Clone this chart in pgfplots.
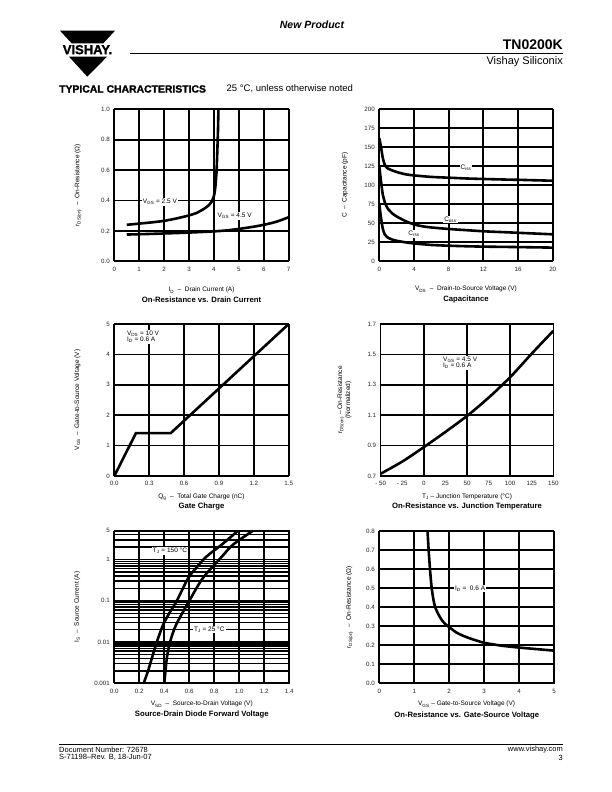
\documentclass[border=0pt]{standalone}
\usepackage{fontspec}
\setmainfont{Liberation Sans}
\newfontfamily\heavyfont[FakeBold=1.5]{Liberation Sans Bold}
\usepackage{pgfplots}
\pgfplotsset{compat=1.18}
\newcommand\tk{\fontsize{6.2}{7}\selectfont}
\newcommand\lb{\fontsize{6.5}{7.5}\selectfont}
\newcommand\ttl{\fontsize{7.7}{9}\selectfont\bfseries}
\pgfplotsset{
  ds/.style={
    scale only axis,
    axis line style={line width=1.1pt},
    grid=major,
    major grid style={line width=1.7pt, black},
    minor grid style={line width=1.4pt, black},
    major tick length=0pt, minor tick length=0pt,
    tick label style={font=\tk, text=black!85},
    xticklabel style={yshift=-2pt},
    yticklabel style={xshift=-1pt},
    label style={font=\lb},
    cycle list={black,mark=none,line width=2.6pt\\},
    /pgf/number format/assume math mode=true,
  },
}
\tikzset{lab/.style={fill=white, inner sep=1pt, font=\lb}}
\begin{document}
\begin{tikzpicture}[x=1pt,y=1pt]
\fill[white] (0,0) rectangle (612,792);
\useasboundingbox (0,0) rectangle (612,792);

% ---------- header ----------
\node[font=\fontsize{10.5}{12}\selectfont\bfseries\itshape] at (312,767) {New Product};
\fill[black] (60,761.3) -- (115,761.3) -- (103.3,748.7) -- (71.7,748.7) -- cycle;
\node[font=\fontsize{13}{14}\heavyfont, inner sep=0pt] at (87.5,742.3) {VISHAY.};
\fill[black] (69,735.3) -- (107,735.3) -- (87.3,715.3) -- cycle;
\draw[line width=1pt] (130,738.7) -- (563,738.7);
\node[anchor=south east, inner sep=0pt, font=\fontsize{14}{16}\selectfont\bfseries] at (563,742) {TN0200K};
\node[anchor=north east, inner sep=0pt, font=\fontsize{11}{13}\selectfont] at (563,736) {Vishay Siliconix};
\node[anchor=west, inner sep=0pt, font=\fontsize{10.4}{12}\heavyfont] at (59,703) {TYPICAL CHARACTERISTICS};
\node[anchor=west, inner sep=0pt, font=\fontsize{9.5}{11}\selectfont] at (226.5,703) {25 °C, unless otherwise noted};

% ---------- plot 1 ----------
\begin{axis}[ds, at={(114.3pt,530.7pt)}, anchor=south west,
  width=174.4pt, height=152pt,
  xmin=0, xmax=7, ymin=0, ymax=1,
  xtick={0,1,2,3,4,5,6,7},
  ytick={0,0.2,0.4,0.6,0.8,1.0},
  yticklabels={0.0,0.2,0.4,0.6,0.8,1.0},
  xlabel={I\textsubscript{D} \ – \ Drain Current (A)},
  xlabel style={at={(axis description cs:0.5,0)}, anchor=center, yshift=-29pt},
  ylabel={r\textsubscript{DS(on)} \ – \ On-Resistance (Ω)},
  ylabel style={at={(axis description cs:-0.208,0.5)}, anchor=center},
]
\addplot+[smooth, tension=0.4] coordinates {(0.5,0.240)(1,0.248)(1.5,0.256)(2,0.266)(2.5,0.282)(3,0.302)(3.3,0.318)(3.6,0.345)(3.8,0.37)(3.9,0.39)(4.0,0.43)(4.05,0.48)(4.1,0.58)(4.13,0.7)(4.16,0.85)(4.18,1.0)(4.19,1.05)};
\addplot+[smooth] coordinates {(0.5,0.176)(1,0.178)(2,0.183)(3,0.189)(4,0.197)(4.5,0.203)(5,0.213)(5.5,0.225)(6,0.24)(6.5,0.26)(7,0.29)};
\node[lab, anchor=west] at (axis cs:1.1,0.39) {V\textsubscript{GS} = 2.5 V};
\node[lab, anchor=west] at (axis cs:4.1,0.30) {V\textsubscript{GS} = 4.5 V};
\end{axis}
\node[font=\ttl] at (201.5,492.5) {On-Resistance vs. Drain Current};

% ---------- plot 2 ----------
\begin{axis}[ds, at={(379.3pt,530.7pt)}, anchor=south west,
  width=173.4pt, height=152pt,
  xmin=0, xmax=20, ymin=0, ymax=200,
  xtick={0,4,8,12,16,20},
  ytick={0,25,50,75,100,125,150,175,200},
  xlabel={V\textsubscript{DS} \ – \ Drain-to-Source Voltage (V)},
  xlabel style={at={(axis description cs:0.5,0)}, anchor=center, yshift=-28pt},
  ylabel={C \ – \ Capacitance (pF)},
  ylabel style={at={(axis description cs:-0.198,0.5)}, anchor=center},
]
\addplot+[smooth, tension=0.4] coordinates {(0,162)(0.2,150)(0.4,136)(0.6,128)(0.8,124)(1,122)(1.5,119.5)(2,117.5)(3,114.5)(4,113)(6,111)(8,110)(10,109)(12,108.3)(14,107.7)(16,107.2)(18,106.6)(20,106)};
\addplot+[smooth, tension=0.4] coordinates {(0,125)(0.2,105)(0.4,88)(0.6,79)(0.8,73)(1,69)(1.5,63)(2,59)(3,53)(4,48.5)(5,46)(6,44.5)(8,42.5)(10,41)(12,39.5)(14,38.5)(16,37.5)(18,36.5)(20,35.5)};
\addplot+[smooth, tension=0.4] coordinates {(0,75)(0.2,57)(0.4,43)(0.6,36)(0.8,33)(1,31)(1.5,28.5)(2,27)(3,25)(4,23.5)(6,21.5)(8,20.5)(10,19.8)(12,19.3)(16,18.7)(20,18)};
\node[lab] at (axis cs:10,123) {C\textsubscript{iss}};
\node[lab] at (axis cs:8.2,55) {C\textsubscript{oss}};
\node[lab] at (axis cs:4,36) {C\textsubscript{rss}};
\end{axis}
\node[font=\ttl] at (466,492) {Capacitance};

% ---------- plot 3 ----------
\begin{axis}[ds, at={(114.3pt,316pt)}, anchor=south west,
  width=174.4pt, height=152pt,
  xmin=0, xmax=1.5, ymin=0, ymax=5,
  xtick={0,0.3,0.6,0.9,1.2,1.5},
  xticklabels={0.0,0.3,0.6,0.9,1.2,1.5},
  ytick={0,1,2,3,4,5},
  xlabel={Q\textsubscript{g} \ – \ Total Gate Charge (nC)},
  xlabel style={at={(axis description cs:0.5,0)}, anchor=center, yshift=-21pt},
  ylabel={V\textsubscript{GS} \ – \ Gate-to-Source Voltage (V)},
  ylabel style={at={(axis description cs:-0.212,0.5)}, anchor=center},
]
\addplot coordinates {(0,0)(0.186,1.41)(0.485,1.41)(1.5,5)};
\node[lab, anchor=north west, align=left, font=\lb] at (axis cs:0.1,4.8) {V\textsubscript{DS} = 10 V\\[-1.5pt]I\textsubscript{D} = 0.6 A};
\end{axis}
\node[font=\ttl] at (201.5,285) {Gate Charge};

% ---------- plot 4 ----------
\begin{axis}[ds, at={(380.7pt,316pt)}, anchor=south west,
  width=172.6pt, height=152pt,
  xmin=-50, xmax=150, ymin=0.7, ymax=1.7,
  xtick={-50,-25,0,25,50,75,100,125,150},
  xticklabels={- 50,- 25,0,25,50,75,100,125,150},
  xmajorgrids=false,
  minor xtick={0,50,100}, xminorgrids=true,
  minor grid style={line width=1.7pt, black},
  ytick={0.7,0.9,1.1,1.3,1.5,1.7},
  yticklabels={0.7,0.9,1.1,1.3,1.5,1.7},
  xlabel={T\textsubscript{J} – Junction Temperature (°C)},
  xlabel style={at={(axis description cs:0.5,0)}, anchor=center, yshift=-21pt},
  ylabel={r\textsubscript{DS(on)} – On-Resistance\\(Normalized)},
  ylabel style={at={(axis description cs:-0.21,0.5)}, anchor=center, align=center, font=\fontsize{6.5}{6.5}\selectfont},
]
\addplot+[smooth] coordinates {(-50,0.715)(-25,0.795)(0,0.89)(25,0.99)(50,1.095)(75,1.215)(100,1.35)(125,1.505)(150,1.655)};
\node[lab, anchor=north west, align=left, font=\lb] at (axis cs:21,1.49) {V\textsubscript{GS} = 4.5 V\\[-1.5pt]I\textsubscript{D} = 0.6 A};
\end{axis}
\node[font=\ttl] at (467,285) {On-Resistance vs. Junction Temperature};

% ---------- plot 5 ----------
\begin{axis}[ds, at={(114.3pt,108.7pt)}, anchor=south west,
  width=175pt, height=152.6pt,
  ymode=log,
  xmin=0, xmax=1.4, ymin=0.001, ymax=5,
  xtick={0,0.2,0.4,0.6,0.8,1.0,1.2,1.4},
  xticklabels={0.0,0.2,0.4,0.6,0.8,1.0,1.2,1.4},
  ytick={0.001,0.01,0.1,1,5},
  yticklabels={0.001,0.01,0.1,1,5},
  minor ytick={0.002,0.003,0.004,0.005,0.006,0.007,0.008,0.009,0.02,0.03,0.04,0.05,0.06,0.07,0.08,0.09,0.2,0.3,0.4,0.5,0.6,0.7,0.8,0.9,2,3,4},
  yminorgrids=true,
  xlabel={V\textsubscript{SD} \ – \ Source-to-Drain Voltage (V)},
  xlabel style={at={(axis description cs:0.5,0)}, anchor=center, yshift=-21pt},
  ylabel={I\textsubscript{S} \ – \ Source Current (A)},
  ylabel style={at={(axis description cs:-0.212,0.5)}, anchor=center},
]
\addplot+[smooth, tension=0.5] coordinates {(0.235,0.001)(0.27,0.002)(0.30,0.004)(0.34,0.01)(0.39,0.026)(0.44,0.05)(0.50,0.1)(0.59,0.35)(0.66,0.65)(0.74,1.2)(0.86,2.3)(0.99,5)};
\addplot+[smooth, tension=0.5] coordinates {(0.40,0.001)(0.42,0.004)(0.446,0.01)(0.494,0.026)(0.60,0.1)(0.71,0.36)(0.86,1.17)(0.95,2.3)(1.11,5)};
\node[lab] at (axis cs:0.445,1.6) {T\textsubscript{J} = 150 °C};
\node[lab] at (axis cs:0.76,0.02) {T\textsubscript{J} = 25 °C};
\end{axis}
\node[font=\ttl] at (201.8,77) {Source-Drain Diode Forward Voltage};

% ---------- plot 6 ----------
\begin{axis}[ds, at={(379.3pt,108.7pt)}, anchor=south west,
  width=174.7pt, height=152pt,
  xmin=0, xmax=5, ymin=0, ymax=0.8,
  xtick={0,1,2,3,4,5},
  ytick={0,0.1,0.2,0.3,0.4,0.5,0.6,0.7,0.8},
  yticklabels={0.0,0.1,0.2,0.3,0.4,0.5,0.6,0.7,0.8},
  xlabel={V\textsubscript{GS} – Gate-to-Source Voltage (V)},
  xlabel style={at={(axis description cs:0.5,0)}, anchor=center, yshift=-21pt},
  ylabel={r\textsubscript{DS(on)} \ – \ On-Resistance (Ω)},
  ylabel style={at={(axis description cs:-0.17,0.5)}, anchor=center},
]
\addplot+[smooth, tension=0.4] coordinates {(1.38,0.8)(1.42,0.68)(1.46,0.58)(1.5,0.5)(1.55,0.44)(1.6,0.40)(1.7,0.36)(1.8,0.33)(1.9,0.31)(2.0,0.296)(2.2,0.268)(2.4,0.25)(2.6,0.236)(2.8,0.224)(3.0,0.213)(3.5,0.198)(4,0.188)(4.5,0.18)(5,0.172)};
\node[lab] at (axis cs:2.6,0.5) {I\textsubscript{D} = \ 0.6 A};
\end{axis}
\node[font=\ttl] at (466.7,76) {On-Resistance vs. Gate-Source Voltage};

% ---------- footer ----------
\draw[line width=0.8pt] (59,48) -- (563,48);
\node[anchor=west, inner sep=0pt, font=\fontsize{7.5}{9}\selectfont] at (59,42) {Document Number: 72678};
\node[anchor=west, inner sep=0pt, font=\fontsize{7.5}{9}\selectfont] at (59,34.5) {S-71198–Rev. B, 18-Jun-07};
\node[anchor=east, inner sep=0pt, font=\fontsize{7.5}{9}\selectfont] at (563,42) {www.vishay.com};
\node[anchor=east, inner sep=0pt, font=\fontsize{7.5}{9}\selectfont] at (563,34.5) {3};
\end{tikzpicture}
\end{document}
